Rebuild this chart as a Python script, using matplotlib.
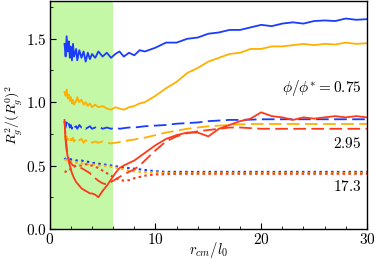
import matplotlib
matplotlib.use("Agg")
import matplotlib.pyplot as plt
import matplotlib.ticker as mticker
from matplotlib import rcParams

rcParams["mathtext.fontset"] = "cm"
rcParams["font.family"] = "DejaVu Serif"

# common r_cm/l0 grid
x = [1.4, 1.5, 1.6, 1.7, 1.8, 1.9, 2.0, 2.1, 2.2, 2.3,
     2.5, 2.6, 2.8, 3.0, 3.2, 3.4, 3.6, 3.8, 4.0, 4.3,
     4.6, 5.0, 5.4, 5.8, 6.2, 6.6, 7.0, 7.5, 8, 8.5,
     9, 10, 11, 12, 13, 14, 15, 16, 17, 18,
     19, 20, 21, 22, 23, 24, 25, 26, 27, 28,
     29, 30]

# phi/phi* = 0.75 (solid)
blue_solid = [1.46, 1.36, 1.52, 1.40, 1.48, 1.35, 1.44, 1.33, 1.46, 1.36,
              1.42, 1.33, 1.41, 1.35, 1.40, 1.32, 1.39, 1.34, 1.38, 1.35,
              1.40, 1.36, 1.39, 1.35, 1.38, 1.40, 1.36, 1.39, 1.37, 1.41,
              1.40, 1.43, 1.47, 1.47, 1.50, 1.51, 1.54, 1.55, 1.57, 1.57,
              1.59, 1.61, 1.60, 1.62, 1.63, 1.62, 1.64, 1.645, 1.64, 1.66,
              1.65, 1.655]
orange_solid = [1.08, 1.05, 1.10, 1.03, 1.06, 1.01, 1.04, 0.99, 1.02, 0.98,
                1.01, 1.04, 1.00, 1.02, 0.98, 1.00, 0.97, 0.99, 0.96, 0.98,
                0.96, 0.97, 0.95, 0.94, 0.96, 0.95, 0.94, 0.96, 0.97, 0.99,
                1.00, 1.05, 1.11, 1.16, 1.23, 1.27, 1.32, 1.35, 1.38, 1.39,
                1.42, 1.42, 1.44, 1.44, 1.45, 1.46, 1.45, 1.46, 1.455, 1.47,
                1.46, 1.465]
red_solid = [0.86, 0.70, 0.62, 0.57, 0.53, 0.50, 0.47, 0.44, 0.42, 0.40,
             0.37, 0.36, 0.34, 0.32, 0.31, 0.30, 0.29, 0.28, 0.28, 0.27,
             0.25, 0.30, 0.34, 0.39, 0.44, 0.48, 0.50, 0.52, 0.54, 0.57,
             0.60, 0.66, 0.71, 0.74, 0.76, 0.76, 0.73, 0.79, 0.82, 0.85,
             0.87, 0.92, 0.89, 0.88, 0.86, 0.88, 0.87, 0.88, 0.89, 0.88,
             0.89, 0.88]

# phi/phi* = 2.95 (dashed)
blue_dash = [0.85, 0.80, 0.84, 0.81, 0.83, 0.80, 0.82, 0.79, 0.82, 0.80,
             0.81, 0.79, 0.82, 0.80, 0.81, 0.79, 0.80, 0.81, 0.79, 0.80,
             0.81, 0.79, 0.80, 0.79, 0.80, 0.79, 0.795, 0.80, 0.80, 0.805,
             0.81, 0.815, 0.82, 0.83, 0.835, 0.84, 0.85, 0.855, 0.86, 0.86,
             0.862, 0.865, 0.865, 0.865, 0.865, 0.865, 0.865, 0.865, 0.865, 0.865,
             0.865, 0.865]
orange_dash = [0.74, 0.71, 0.73, 0.70, 0.72, 0.69, 0.71, 0.70, 0.72, 0.69,
               0.71, 0.69, 0.70, 0.71, 0.68, 0.70, 0.69, 0.70, 0.68, 0.69,
               0.68, 0.69, 0.68, 0.675, 0.68, 0.685, 0.69, 0.70, 0.705, 0.715,
               0.72, 0.74, 0.76, 0.775, 0.79, 0.80, 0.81, 0.815, 0.82, 0.825,
               0.828, 0.828, 0.828, 0.828, 0.828, 0.828, 0.828, 0.828, 0.828, 0.828,
               0.828, 0.828]
red_dash = [0.85, 0.72, 0.64, 0.58, 0.55, 0.53, 0.52, 0.51, 0.50, 0.50,
            0.49, 0.49, 0.48, 0.48, 0.47, 0.46, 0.45, 0.44, 0.42, 0.40,
            0.38, 0.36, 0.35, 0.37, 0.39, 0.41, 0.43, 0.45, 0.47, 0.50,
            0.54, 0.62, 0.69, 0.73, 0.755, 0.77, 0.78, 0.79, 0.80, 0.80,
            0.795, 0.79, 0.79, 0.79, 0.79, 0.79, 0.79, 0.79, 0.79, 0.79,
            0.79, 0.79]

# phi/phi* = 17.3 (dotted)
blue_dot = [0.56, 0.55, 0.55, 0.55, 0.55, 0.55, 0.55, 0.545, 0.545, 0.545,
            0.54, 0.54, 0.54, 0.54, 0.535, 0.53, 0.53, 0.525, 0.52, 0.52,
            0.515, 0.51, 0.505, 0.50, 0.495, 0.49, 0.485, 0.48, 0.475, 0.47,
            0.465, 0.455, 0.45, 0.45, 0.45, 0.45, 0.45, 0.45, 0.45, 0.45,
            0.45, 0.45, 0.45, 0.45, 0.45, 0.45, 0.45, 0.45, 0.45, 0.45,
            0.45, 0.45]
orange_dot = [0.55, 0.545, 0.54, 0.54, 0.535, 0.535, 0.53, 0.53, 0.53, 0.525,
              0.525, 0.52, 0.52, 0.52, 0.515, 0.515, 0.51, 0.51, 0.51, 0.505,
              0.50, 0.50, 0.495, 0.49, 0.485, 0.475, 0.47, 0.46, 0.455, 0.45,
              0.448, 0.445, 0.44, 0.44, 0.44, 0.44, 0.44, 0.44, 0.44, 0.44,
              0.44, 0.44, 0.44, 0.44, 0.44, 0.44, 0.44, 0.44, 0.44, 0.44,
              0.44, 0.44]
red_dot = [0.45, 0.45, 0.46, 0.46, 0.47, 0.47, 0.47, 0.48, 0.49, 0.49,
           0.50, 0.50, 0.50, 0.50, 0.51, 0.51, 0.51, 0.50, 0.50, 0.49,
           0.48, 0.46, 0.44, 0.42, 0.40, 0.39, 0.38, 0.385, 0.40, 0.41,
           0.42, 0.43, 0.432, 0.435, 0.435, 0.435, 0.435, 0.435, 0.435, 0.435,
           0.435, 0.435, 0.435, 0.435, 0.435, 0.435, 0.435, 0.435, 0.435, 0.435,
           0.435, 0.435]

labels = [r"$\phi/\phi^{*} = 0.75$", r"$2.95$", r"$17.3$"]
label_y = [1.11, 0.67, 0.335]

BLUE = "#1a3cff"
ORANGE = "#ffb000"
RED = "#ff3a1a"

fig = plt.figure(figsize=(3.74, 2.61), dpi=100)
ax = fig.add_axes([0.133, 0.123, 0.848, 0.874])

ax.axvspan(0, 6, color="#c4f7a6", lw=0, zorder=0)

lw = 1.3
dash = (0, (7, 3))
dot = (0, (1.2, 1.6))
for ys, c in [(blue_dot, BLUE), (orange_dot, ORANGE), (red_dot, RED)]:
    ax.plot(x, ys, color=c, lw=1.5, ls=dot)
for ys, c in [(blue_dash, BLUE), (orange_dash, ORANGE), (red_dash, RED)]:
    ax.plot(x, ys, color=c, lw=lw, ls=dash)
for ys, c in [(blue_solid, BLUE), (orange_solid, ORANGE), (red_solid, RED)]:
    ax.plot(x, ys, color=c, lw=lw, ls="-")

for t, yy in zip(labels, label_y):
    ax.text(29.5, yy, t, ha="right", va="center", fontsize=11)

ax.set_xlim(0, 30)
ax.set_ylim(0, 1.8)
ax.xaxis.set_major_locator(mticker.MultipleLocator(10))
ax.xaxis.set_minor_locator(mticker.MultipleLocator(2))
ax.yaxis.set_major_locator(mticker.MultipleLocator(0.5))
ax.yaxis.set_minor_locator(mticker.MultipleLocator(0.25))
ax.xaxis.set_major_formatter(mticker.FuncFormatter(lambda v, p: f"${v:.0f}$"))
ax.yaxis.set_major_formatter(mticker.FuncFormatter(lambda v, p: f"${v:.1f}$"))
ax.tick_params(which="both", direction="in", top=False, right=False, labelsize=11, pad=2)
ax.tick_params(which="major", length=4)
ax.tick_params(which="minor", length=2)
ax.set_xlabel(r"$r_{cm}/l_0$", fontsize=10.5)
ax.xaxis.set_label_coords(0.5, -0.05, transform=ax.transAxes)
ax.xaxis.label.set_va("top")
ax.set_ylabel(r"$R_g^2/(R_g^0)^2$", fontsize=10, labelpad=1)
for s in ax.spines.values():
    s.set_linewidth(1.0)

fig.savefig("out.png", dpi=100)
